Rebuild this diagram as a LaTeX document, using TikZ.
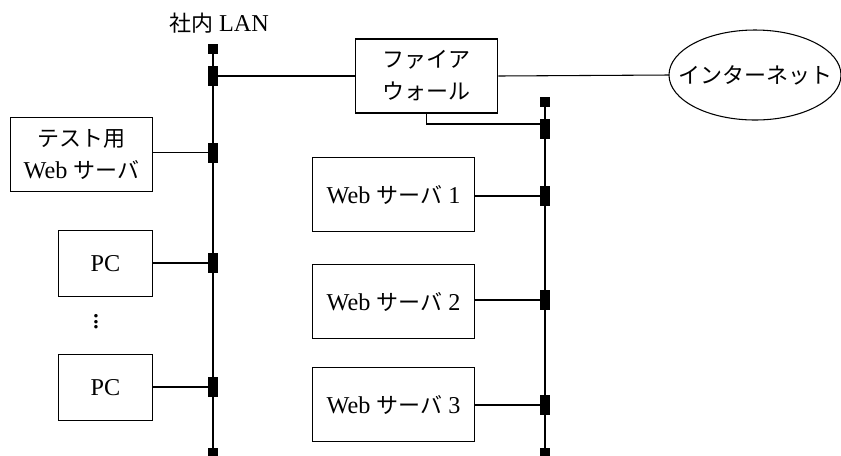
\documentclass[tikz,border=0pt]{standalone}
\usepackage{fontspec}
\setmainfont{Liberation Serif}[Scale=1.1]
\newfontfamily\jpfont{Noto Sans CJK JP}
\newcommand{\jp}[1]{{\jpfont #1}}
\usetikzlibrary{shapes.geometric}

\tikzset{
  box/.style={draw, line width=0.8pt, align=center, inner sep=0pt},
  tap/.style={fill=black, inner sep=0pt, minimum width=7.5pt, minimum height=15pt},
  terminator/.style={fill=black, inner sep=0pt, minimum size=7.5pt},
  bus/.style={line width=1.2pt},
  link/.style={line width=0.8pt}
}

\begin{document}
\begin{tikzpicture}[x=0.75pt,y=0.75pt,yscale=-1,xscale=1,font=\fontsize{16.5}{24}\selectfont]
\useasboundingbox (0,0) rectangle (841,455);

% LAN bus
\node (lanlabel) at (219,23) {\jp{社内} LAN};
\node[terminator] (lantop) at (213,49) {};
\node[tap] (lanfw) at (213,76) {};
\node[tap] (lantest) at (213,152.5) {};
\node[tap] (lanpc1) at (213,263) {};
\node[tap] (lanpc2) at (213,387) {};
\node[terminator] (lanbot) at (213,453) {};
\draw[bus] (lantop) -- (lanbot);

% DMZ bus
\node[terminator] (dmztop) at (545,102) {};
\node[tap] (dmzfw) at (545,129) {};
\node[tap] (dmz1) at (545,196) {};
\node[tap] (dmz2) at (545,300) {};
\node[tap] (dmz3) at (545,405) {};
\node[terminator] (dmzbot) at (545,453) {};
\draw[bus, line width=1.5pt] (dmztop) -- (dmzbot);

% machines
\node[box, minimum width=107pt, minimum height=55.5pt] (fw) at (426.5,76) {\jp{ファイア}\\\jp{ウォール}};
\node (inet) at (755,75) {\jp{インターネット}};
\draw[link] (inet.center) ellipse [x radius=86, y radius=45];
\coordinate (inetw) at ([xshift=-64.5pt]inet.center);
\node[box, minimum width=107pt, minimum height=56pt] (test) at (81.5,154.5) {\jp{テスト用}\\Web \jp{サーバ}};
\node[box, minimum width=70pt, minimum height=49pt] (pc1) at (105.5,263.5) {PC};
\node[font=\fontsize{20}{24}\selectfont] (dots) at (96,318) {$\vdots$};
\node[box, minimum width=70pt, minimum height=49pt] (pc2) at (105.5,387.5) {PC};
\node[box, minimum width=122pt, minimum height=56pt] (ws1) at (393.5,194.5) {Web \jp{サーバ} 1};
\node[box, minimum width=122pt, minimum height=56pt] (ws2) at (393.5,301.5) {Web \jp{サーバ} 2};
\node[box, minimum width=122pt, minimum height=56pt] (ws3) at (393.5,404.5) {Web \jp{サーバ} 3};

% links
\draw[link] (lanfw.east) -- (fw.west |- lanfw);
\draw[link] (fw.east) -- (inetw);
\draw[link] (fw.south) |- ([yshift=-3.75pt]dmzfw.west);
\draw[link] (lantest.west) -- (lantest.west -| test.east);
\draw[link] (lanpc1.west) -- (lanpc1.west -| pc1.east);
\draw[link] (lanpc2.west) -- (lanpc2.west -| pc2.east);
\draw[link] (dmz1.west) -- (dmz1.west -| ws1.east);
\draw[link] (dmz2.west) -- (dmz2.west -| ws2.east);
\draw[link] (dmz3.west) -- (dmz3.west -| ws3.east);
\end{tikzpicture}
\end{document}
